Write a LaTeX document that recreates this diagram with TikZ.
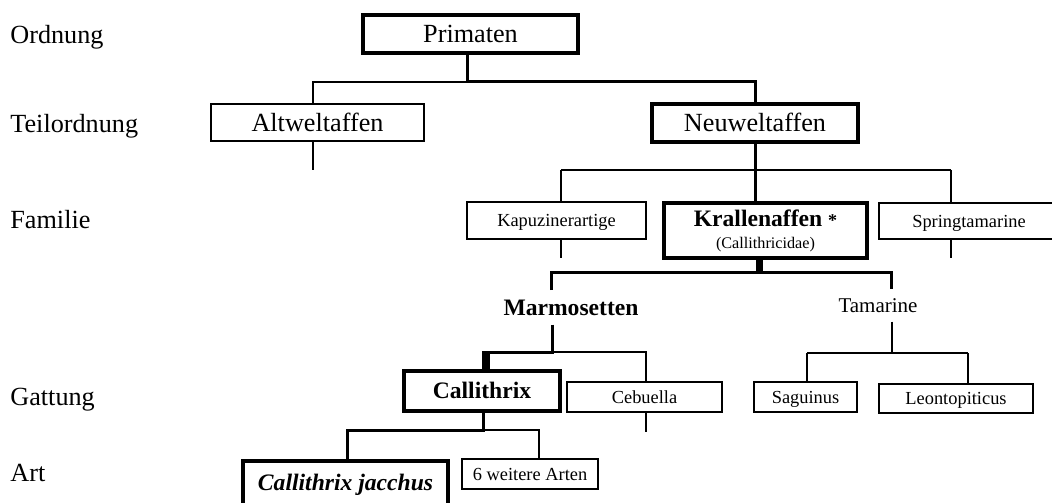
\documentclass[tikz,border=0pt]{standalone}
\usepackage{fontspec}
\setmainfont{Liberation Serif}
\begin{document}
\begin{tikzpicture}[x=0.5pt,y=-0.5pt,
    frame/.style={draw,line width=0.75pt,inner sep=0pt},
    boldframe/.style={draw,line width=1.75pt,inner sep=0pt},
    bigtext/.style={font=\fontsize{13.1}{15}\selectfont,text height=8.7pt,text depth=0pt},
    smalltext/.style={font=\fontsize{9.2}{11}\selectfont,text height=6.1pt,text depth=0pt},
    keytext/.style={font=\fontsize{11.8}{13}\selectfont\bfseries,text height=7.8pt,text depth=0pt},
    rank/.style={anchor=base west,inner sep=0pt,bigtext},
    group/.style={anchor=base,inner sep=4.5pt,text height={},text depth={}},
    link/.style={line width=0.75pt},
    fat/.style={line width=1.5pt},
    knot/.style={line width=4pt}]
  \useasboundingbox (0,0) rectangle (1052,502);
  \clip (0,0) rectangle (1052,502);
  % rank labels
  \node[rank] (ord) at (10,44) {Ordnung};
  \node[rank] (teil) at (10,133) {Teilordnung};
  \node[rank] (fam) at (10,228) {Familie};
  \node[rank] (gat) at (10,405) {Gattung};
  \node[rank] (art) at (10,481) {Art};
  % taxa
  \node[boldframe,bigtext,minimum width=107.5pt,minimum height=19pt] (prim) at (470.5,34) {Primaten};
  \node[frame,bigtext,minimum width=106.5pt,minimum height=18.5pt] (alt) at (317.5,122.5) {Altweltaffen};
  \node[boldframe,bigtext,minimum width=103pt,minimum height=19pt] (neu) at (755,123) {Neuweltaffen};
  \node[frame,smalltext,minimum width=89.5pt,minimum height=18.5pt] (kap) at (556.5,220.5) {Kapuzinerartige};
  \node[boldframe,keytext,align=center,text height={},text depth={},minimum width=101.5pt,minimum height=27.5pt] (kra) at (765.5,230.5)
    {Krallenaffen {\fontsize{9}{9}\selectfont *}\\[-2pt]{\fontsize{8.1}{9}\selectfont\mdseries (Callithricidae)}};
  \node[frame,smalltext,minimum width=90pt,minimum height=18pt] (spr) at (969,221) {Springtamarine};
  \node[keytext,group] (marm) at (571,315) {Marmosetten};
  \node[group,font=\fontsize{10.5}{12}\selectfont] (tam) at (878,312) {Tamarine};
  \node[boldframe,keytext,minimum width=78pt,minimum height=20pt] (cal) at (482,391) {Callithrix};
  \node[frame,smalltext,minimum width=77.5pt,minimum height=15pt] (ceb) at (644.5,397) {Cebuella};
  \node[frame,smalltext,minimum width=51.5pt,minimum height=15pt] (sag) at (805.5,397) {Saguinus};
  \node[frame,smalltext,minimum width=77pt,minimum height=14.5pt] (leo) at (956,398.5) {Leontopiticus};
  \node[boldframe,keytext,font=\fontsize{11.8}{13}\selectfont\bfseries\itshape,minimum width=102.5pt,minimum height=22pt] (cj) at (345.5,483) {Callithrix jacchus};
  \node[frame,smalltext,minimum width=68pt,minimum height=15pt] (wei) at (530,474) {6 weitere Arten};
  % junctions
  \coordinate (pj) at (467,82);
  \coordinate (aj) at (313,82);
  \coordinate (altend) at (313,170);
  \coordinate (fl) at (561,170);
  \coordinate (fr) at (951,170);
  \coordinate (kapend) at (561,258);
  \coordinate (sprend) at (951,258);
  \coordinate (kj) at (759.5,272);
  \coordinate (ml) at (551,272);
  \coordinate (tr) at (891,272);
  \coordinate (mj) at (552,352);
  \coordinate (ck) at (486,352);
  \coordinate (cebj) at (646,352);
  \coordinate (cebend) at (646,432);
  \coordinate (tj) at (892,353);
  \coordinate (sj) at (807,353);
  \coordinate (lj) at (968,353);
  \coordinate (gj) at (483,430);
  \coordinate (jl) at (347,430);
  \coordinate (wr) at (539,430);
  % Ordnung -> Teilordnung
  \draw[fat] (prim.south -| pj) -- (pj) -| (neu.north);
  \draw[link] (pj) -- (aj) -- (aj |- alt.north);
  \draw[link] (altend |- alt.south) -- (altend);
  % Teilordnung -> Familie
  \draw[fat] (neu.south) -- (neu.south |- kra.north);
  \draw[link] (fl) -- (fr);
  \draw[link] (fl) -- (fl |- kap.north);
  \draw[link] (fr) -- (fr |- spr.north);
  \draw[link] (kapend |- kap.south) -- (kapend);
  \draw[link] (sprend |- spr.south) -- (sprend);
  % Familie -> Gruppen
  \draw[line width=3.5pt] (kj |- kra.south) -- (kj);
  \draw[fat] (ml |- marm.north) -- (ml) -- (tr) -- (tr |- tam.north);
  % Gruppen -> Gattung
  \draw[fat] (mj |- marm.south) -- (mj) -- ([xshift=-2pt]ck);
  \draw[knot] (ck) -- (ck |- cal.north);
  \draw[link] (mj) -- (cebj) -- (cebj |- ceb.north);
  \draw[link] (cebend |- ceb.south) -- (cebend);
  \draw[link] (tj |- tam.south) -- (tj);
  \draw[link] (sj) -- (lj);
  \draw[link] (sj) -- (sj |- sag.north);
  \draw[link] (lj) -- (lj |- leo.north);
  % Gattung -> Art
  \draw[fat] (gj |- cal.south) -- (gj) -- (jl) -- (jl |- cj.north);
  \draw[link] (gj) -- (wr) -- (wr |- wei.north);
\end{tikzpicture}
\end{document}
